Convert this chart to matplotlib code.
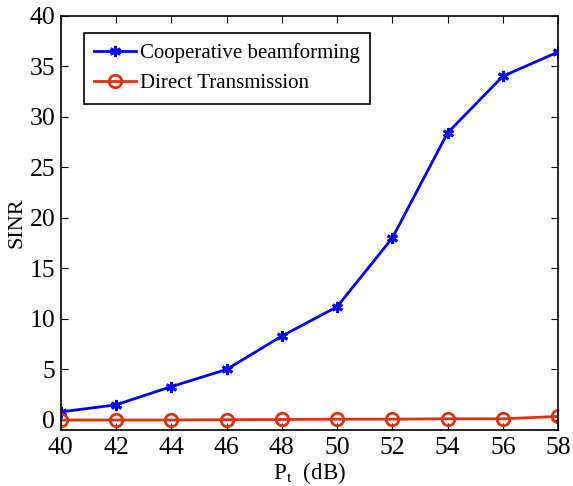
import numpy as np
import matplotlib
matplotlib.use('Agg')
import matplotlib.pyplot as plt

plt.rcParams['font.family'] = ['Liberation Serif', 'DejaVu Serif']
plt.rcParams['mathtext.fontset'] = 'stix'

pt = [40, 42, 44, 46, 48, 50, 52, 54, 56, 58]
coop = [0.8, 1.5, 3.3, 5.0, 8.3, 11.2, 18.0, 28.4, 34.0, 36.4]
direct = [0.0, 0.0, 0.0, 0.03, 0.05, 0.08, 0.08, 0.12, 0.12, 0.35]

fig = plt.figure(figsize=(5.73, 4.86), dpi=100)
ax = fig.add_axes([0.106, 0.115, 0.868, 0.853])

ax.plot(pt, coop, color='blue', marker=(6, 2, 0), markersize=8, linewidth=2,
        markeredgewidth=2, label='Cooperative beamforming')
ax.plot(pt, direct, color='#DD3311', marker='o', markersize=9, linewidth=2,
        markerfacecolor='none', markeredgewidth=2, label='Direct Transmission')

ax.set_xlim(40, 58)
ax.set_ylim(-1, 40)
ax.set_xticks(pt)
ax.set_yticks(np.arange(0, 41, 5))
ax.tick_params(direction='in', top=True, right=True, labelsize=18.5, length=5)
ax.tick_params(axis='x', pad=5)
ax.tick_params(axis='y', pad=4)
for s in ax.spines.values():
    s.set_linewidth(1.2)

ax.set_xlabel(r'P$_{\rm t}$  (dB)', fontsize=16.5, labelpad=1)
ax.set_ylabel('SINR', fontsize=16, labelpad=2)

leg = ax.legend(loc='upper left', bbox_to_anchor=(0.046, 0.958), borderaxespad=0,
                fontsize=15, fancybox=False, edgecolor='black', framealpha=1,
                handlelength=2.0, handletextpad=0.2, borderpad=0.5, labelspacing=0.5)
leg.get_frame().set_linewidth(1.2)

plt.savefig('out.png', dpi=100)
